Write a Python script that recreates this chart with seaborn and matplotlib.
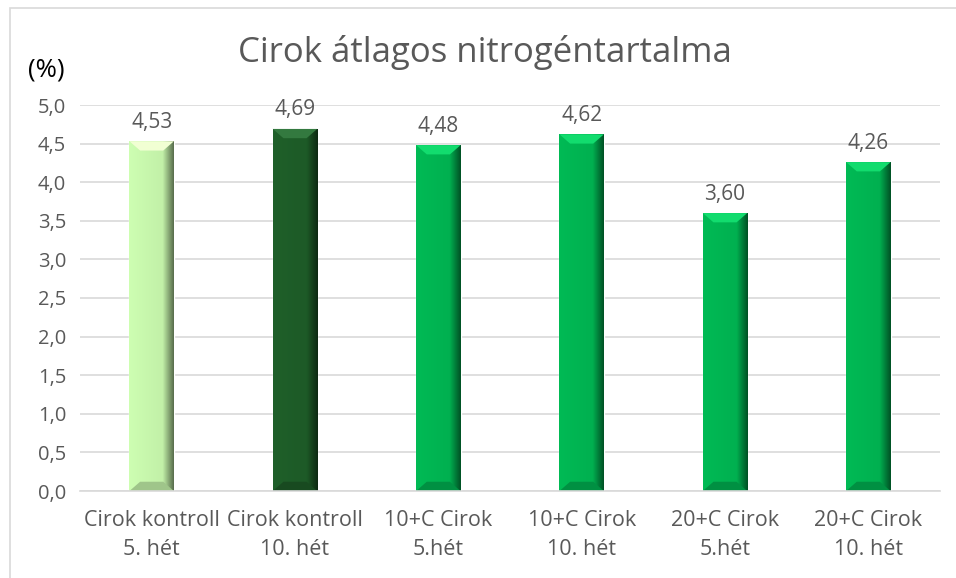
import numpy as np
import pandas as pd
import matplotlib
matplotlib.use("Agg")
import matplotlib.pyplot as plt
import matplotlib.colors as mcolors
from matplotlib.patches import Rectangle, Polygon
import seaborn as sns

categories = ["Cirok kontroll\n5. hét", "Cirok kontroll\n10. hét", "10+C Cirok\n5.hét",
              "10+C Cirok\n10. hét", "20+C Cirok\n5.hét", "20+C Cirok\n10. hét"]
values = [4.53, 4.69, 4.48, 4.62, 3.60, 4.26]
value_labels = ["4,53", "4,69", "4,48", "4,62", "3,60", "4,26"]
bar_colors = ["#c2f0a8", "#1d5a27", "#00b050", "#00b050", "#00b050", "#00b050"]
yticks = [0.0, 0.5, 1.0, 1.5, 2.0, 2.5, 3.0, 3.5, 4.0, 4.5, 5.0]
ytick_labels = ["0,0", "0,5", "1,0", "1,5", "2,0", "2,5", "3,0", "3,5", "4,0", "4,5", "5,0"]

sns.set_theme(style="white")
plt.rcParams["font.family"] = ["Open Sans", "DejaVu Sans"]
txt = "#595959"

fig = plt.figure(figsize=(9.56, 5.78), dpi=100)
ax = fig.add_axes([80/956, 1-491/578, (940-80)/956, (491-105)/578])

df = pd.DataFrame({"cat": categories, "val": values})
sns.barplot(data=df, x="cat", y="val", hue="cat", palette=bar_colors, legend=False,
            width=0.31, ax=ax, saturation=1)

ax.set_xlim(-0.5, 5.5)
ax.set_ylim(0, 5.0)
ax.set_yticks(yticks)
ax.set_yticklabels(ytick_labels, color=txt, fontsize=14.5)
ax.tick_params(axis="x", colors=txt, labelsize=15.5, length=0, pad=14)
ax.tick_params(axis="y", length=0, pad=10)
for lab in ax.get_xticklabels():
    lab.set_linespacing(1.45)
ax.set_xlabel("")
ax.set_ylabel("")
ax.grid(axis="y", color="#d9d9d9", linewidth=1.2)
ax.set_axisbelow(True)
for s in ["top", "right", "left"]:
    ax.spines[s].set_visible(False)
ax.spines["bottom"].set_color("#d9d9d9")
ax.spines["bottom"].set_linewidth(1.2)

# bevel / shading effect on bars
grad = np.linspace(0, 1, 256)
for p, c in zip(ax.patches, bar_colors):
    x0, y0 = p.get_x(), p.get_y()
    w, h = p.get_width(), p.get_height()
    base = np.array(mcolors.to_rgb(c))
    shade = np.where(grad < 0.75, 1.0 + 0.06 * (1 - grad / 0.75), 1.0 - 2.2 * (grad - 0.75))
    shade = np.clip(shade, 0.35, 1.2)
    img = np.clip(base[None, :] * shade[:, None], 0, 1)[None, :, :]
    im = ax.imshow(img, extent=[x0, x0 + w, y0, y0 + h], aspect="auto", zorder=p.get_zorder() + 0.1,
                   interpolation="bilinear")
    im.set_clip_path(p)
    bev = 0.12
    inset = w * 0.24
    top = Polygon([[x0, y0 + h], [x0 + w, y0 + h], [x0 + w - inset, y0 + h - bev], [x0 + inset, y0 + h - bev]],
                  closed=True, facecolor=tuple(np.clip(base * 1.15 + 0.07, 0, 1)), edgecolor="none",
                  zorder=p.get_zorder() + 0.2)
    ax.add_patch(top)
    bot = Polygon([[x0, y0], [x0 + w, y0], [x0 + w - inset, y0 + bev], [x0 + inset, y0 + bev]],
                  closed=True, facecolor=tuple(np.clip(base * 0.82, 0, 1)), edgecolor="none",
                  zorder=p.get_zorder() + 0.2)
    ax.add_patch(bot)

for i, (v, lab) in enumerate(zip(values, value_labels)):
    ax.text(i, v + 0.11, lab, ha="center", va="bottom", color=txt, fontsize=15)

fig.text(485/956, 1-53/578, "Cirok átlagos nitrogéntartalma", ha="center", va="center",
         color=txt, fontsize=25)
fig.text(46/956, 1-70/578, "(%)", ha="center", va="center", color="#000000", fontsize=18.5)

fig.patches.append(Rectangle((10/956, -0.1), 1.2, 1.1 - 8/578, transform=fig.transFigure,
                             fill=False, edgecolor="#d9d9d9", linewidth=1.2))

fig.savefig("out.png", dpi=100)
